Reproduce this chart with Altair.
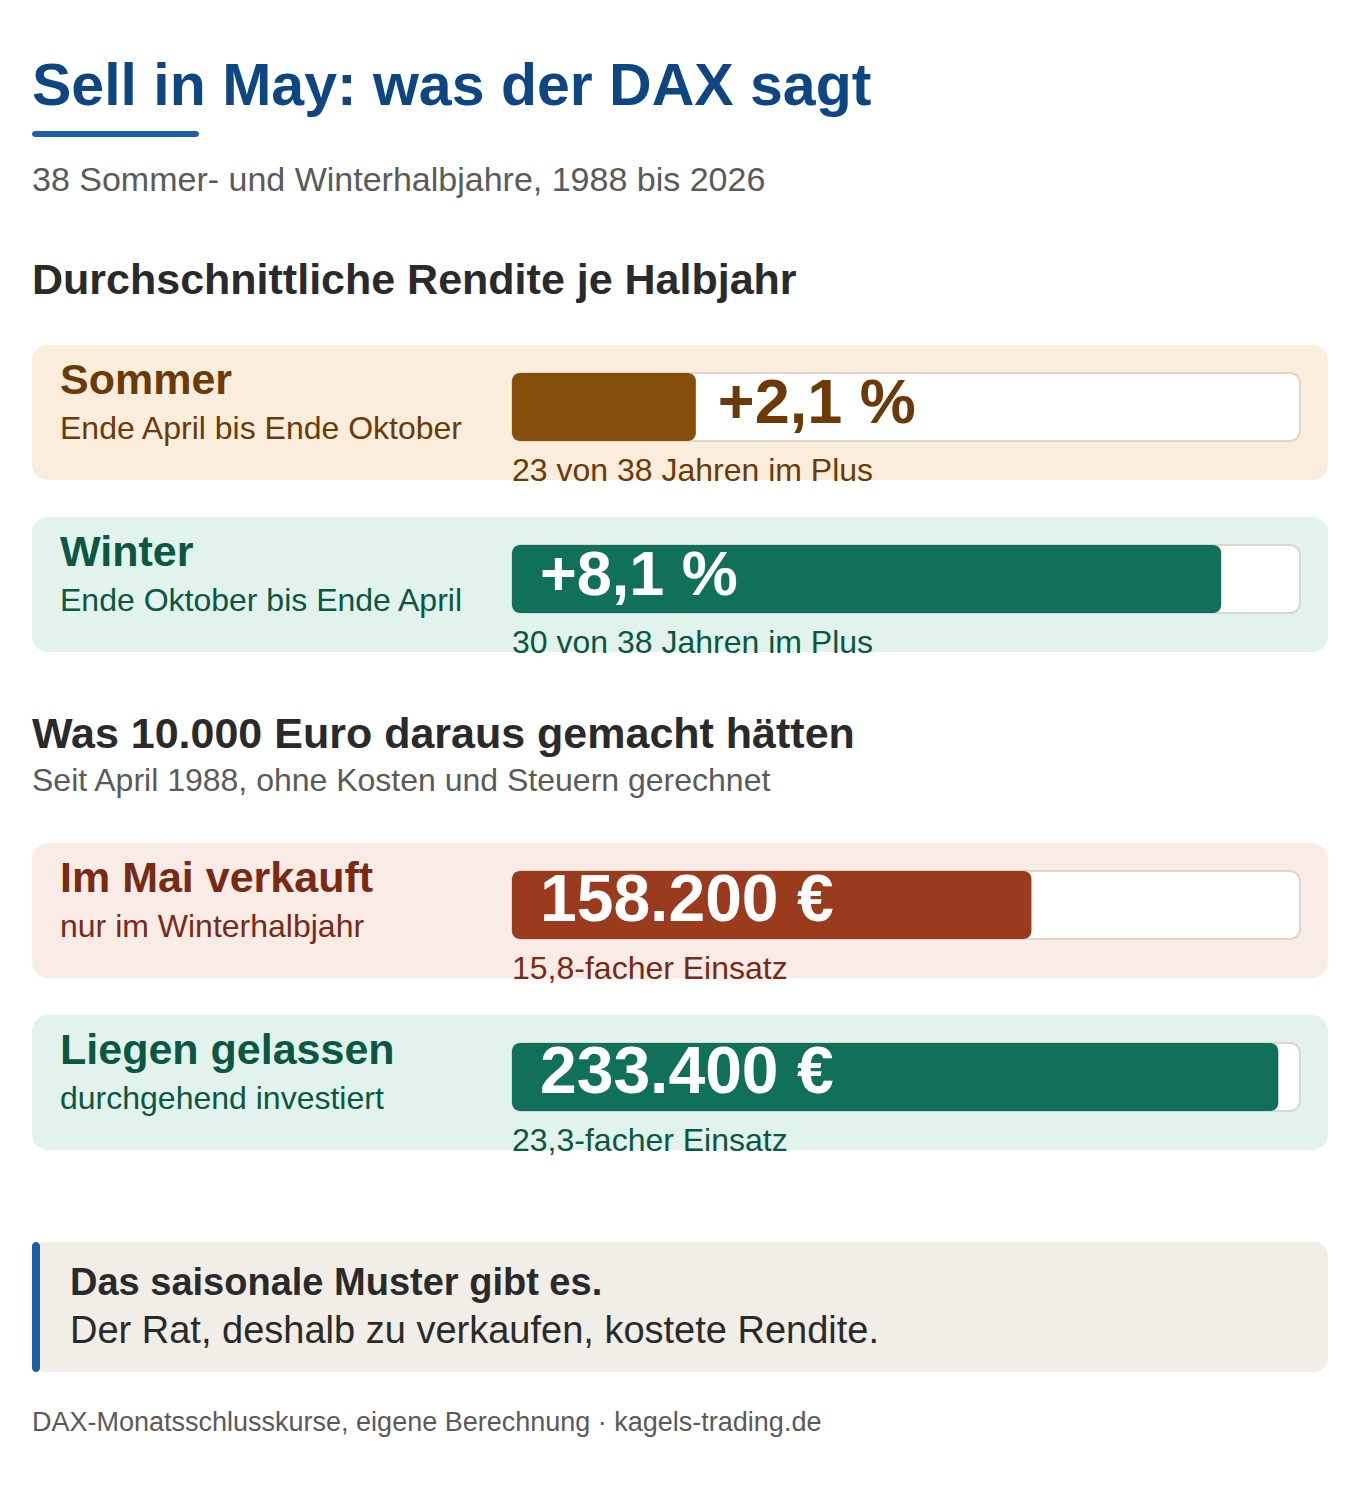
# %%
import altair as alt
import pandas as pd

FONT = "Liberation Sans"

# %% data
seasons = ["Sommer", "Winter"]
season_spans = ["Ende April bis Ende Oktober", "Ende Oktober bis Ende April"]
season_returns = [2.1, 8.1]
season_years_plus = [23, 30]
years_total = 38

strategies = ["Im Mai verkauft", "Liegen gelassen"]
strategy_notes = ["nur im Winterhalbjahr", "durchgehend investiert"]
strategy_values = [158200, 233400]
strategy_multiples = [15.8, 23.3]

# colours per row: panel, text, bar
season_colors = [("#faeddb", "#6b3a06", "#864e0b"), ("#e1f3ec", "#0a5742", "#117059")]
strategy_colors = [("#f9ebe6", "#7a2912", "#9a3b1e"), ("#e1f3ec", "#0a5742", "#117059")]


def de_num(v, decimals=0):
    s = f"{v:,.{decimals}f}"
    return s.replace(",", "X").replace(".", ",").replace("X", ".")


def px(v):
    # page coordinates -> chart coordinates (8px page margin)
    return v - 8


one = pd.DataFrame({"k": [0]})


def box(x1, x2, y1, y2, color, radius=0, stroke=None):
    kw = dict(color=color, cornerRadius=radius)
    if stroke:
        kw.update(stroke=stroke, strokeWidth=2)
    return alt.Chart(one).mark_rect(**kw).encode(
        x=alt.value(px(x1)), x2=alt.value(px(x2)),
        y=alt.value(px(y1)), y2=alt.value(px(y2)))


def label(txt, x, y, size, color, bold=False):
    return alt.Chart(one).mark_text(
        text=txt, align="left", baseline="alphabetic", font=FONT,
        fontSize=size, fontWeight="bold" if bold else "normal", color=color
    ).encode(x=alt.value(px(x)), y=alt.value(px(y)))


def bar_row(top, name, note, value, value_txt, foot_txt, colors, domain_max, value_size):
    panel, ink, fill = colors
    sc = alt.Scale(domain=[0, domain_max], range=[px(512), px(1300)])
    df = pd.DataFrame({"value": [value], "label": [value_txt]})
    layers = [
        box(32, 1328, top, top + 135, panel, radius=16),
        label(name, 60, top + 49, 43, ink, bold=True),
        label(note, 60, top + 94, 32, ink),
        box(512, 1300, top + 28, top + 96, "white", radius=10, stroke="#ddd7ce"),
        alt.Chart(df).mark_rect(color=fill, cornerRadius=8).encode(
            x=alt.X("value:Q", scale=sc, axis=None), x2=alt.datum(0),
            y=alt.value(px(top + 28)), y2=alt.value(px(top + 96))),
        label(foot_txt, 512, top + 136, 32, ink),
    ]
    text_kw = dict(align="left", baseline="alphabetic", font=FONT, fontWeight="bold",
                   fontSize=value_size)
    if value / domain_max < 0.5:
        layers.append(alt.Chart(df).mark_text(dx=22, color=ink, **text_kw).encode(
            x=alt.X("value:Q", scale=sc, axis=None), y=alt.value(px(top + 78)),
            text="label:N"))
    else:
        layers.append(alt.Chart(df).mark_text(color="white", **text_kw).encode(
            x=alt.value(px(540)), y=alt.value(px(top + 78)), text="label:N"))
    return layers


layers = [
    label("Sell in May: was der DAX sagt", 32, 105, 59, "#0d4680", bold=True),
    box(32, 199, 131, 137, "#1b5fa8", radius=3),
    label("38 Sommer- und Winterhalbjahre, 1988 bis 2026", 32, 191, 34, "#5a5a5a"),
    label("Durchschnittliche Rendite je Halbjahr", 32, 294, 43, "#2a2a2a", bold=True),
]

for i, top in enumerate([345, 517]):
    layers += bar_row(top, seasons[i], season_spans[i], season_returns[i],
                      f"+{de_num(season_returns[i], 1)} %",
                      f"{season_years_plus[i]} von {years_total} Jahren im Plus",
                      season_colors[i], 9, 63)

layers += [
    label("Was 10.000 Euro daraus gemacht hätten", 32, 748, 43, "#2a2a2a", bold=True),
    label("Seit April 1988, ohne Kosten und Steuern gerechnet", 32, 791, 32, "#5a5a5a"),
]

for i, top in enumerate([843, 1015]):
    layers += bar_row(top, strategies[i], strategy_notes[i], strategy_values[i],
                      f"{de_num(strategy_values[i])} €",
                      f"{de_num(strategy_multiples[i], 1)}-facher Einsatz",
                      strategy_colors[i], 240000, 66)

layers += [
    box(32, 1328, 1242, 1372, "#f1eee8", radius=14),
    box(32, 40, 1242, 1372, "#1b5fa8", radius=4),
    label("Das saisonale Muster gibt es.", 70, 1295, 38, "#2a2a2a", bold=True),
    label("Der Rat, deshalb zu verkaufen, kostete Rendite.", 70, 1343, 38, "#2a2a2a"),
    label("DAX-Monatsschlusskurse, eigene Berechnung · kagels-trading.de", 32, 1431, 27, "#5a5a5a"),
]

chart = alt.layer(*layers).resolve_scale(x="independent").properties(
    width=1344, height=1465, background="white", padding=0, autosize="none"
).configure_view(stroke=None)

chart.save("out.html", embed_options={"renderer": "svg", "actions": False})
